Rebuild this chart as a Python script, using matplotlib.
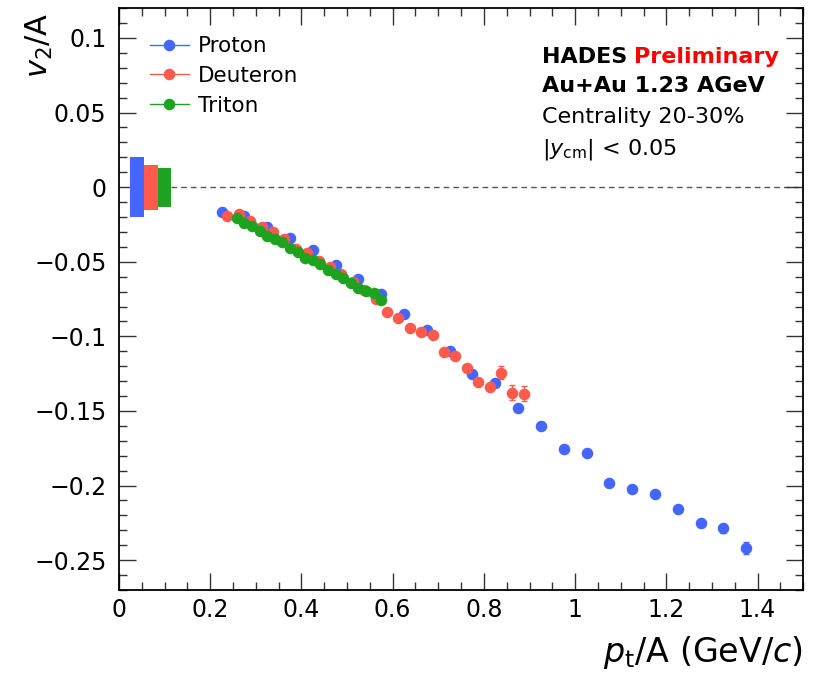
import numpy as np
import matplotlib
matplotlib.use("Agg")
import matplotlib.pyplot as plt
from matplotlib.lines import Line2D
from matplotlib.ticker import MultipleLocator

plt.rcParams['font.family'] = ['DejaVu Sans']
plt.rcParams['mathtext.fontset'] = 'dejavusans'

# v2/A vs pt/A, Au+Au 1.23 AGeV, centrality 20-30%, |y_cm| < 0.05
proton_pt = [0.225, 0.275, 0.325, 0.375, 0.425, 0.475, 0.525, 0.575, 0.625, 0.675,
             0.725, 0.775, 0.825, 0.875, 0.925, 0.975, 1.025, 1.075, 1.125, 1.175,
             1.225, 1.275, 1.325, 1.375]
proton_v2 = [-0.0167, -0.0194, -0.0267, -0.0341, -0.0421, -0.0521, -0.0615, -0.0715,
             -0.0849, -0.0956, -0.1096, -0.1250, -0.1310, -0.1477, -0.1600, -0.1758,
             -0.1785, -0.1985, -0.2025, -0.2059, -0.2159, -0.2253, -0.2286, -0.2420]
proton_err = [0.001, 0.001, 0.001, 0.001, 0.001, 0.001, 0.001, 0.001, 0.001, 0.001,
              0.001, 0.001, 0.0012, 0.0012, 0.0013, 0.0014, 0.0015, 0.0016, 0.0018, 0.002,
              0.0022, 0.0025, 0.003, 0.004]

deuteron_pt = [0.2375, 0.2625, 0.2875, 0.3125, 0.3375, 0.3625, 0.3875, 0.4125, 0.4375,
               0.4625, 0.4875, 0.5125, 0.5375, 0.5625, 0.5875, 0.6125, 0.6375, 0.6625,
               0.6875, 0.7125, 0.7375, 0.7625, 0.7875, 0.8125, 0.8375, 0.8625, 0.8875]
deuteron_v2 = [-0.0194, -0.0180, -0.0227, -0.0267, -0.0300, -0.0350, -0.0414, -0.0440,
               -0.0495, -0.0535, -0.0580, -0.0635, -0.0690, -0.0749, -0.0836, -0.0876,
               -0.0943, -0.0969, -0.0989, -0.1103, -0.1130, -0.1210, -0.1303, -0.1337,
               -0.1243, -0.1377, -0.1384]
deuteron_err = [0.001] * 20 + [0.0012, 0.0015, 0.0018, 0.0022, 0.0045, 0.0048, 0.005]

triton_pt = [0.2583, 0.2750, 0.2917, 0.3083, 0.3250, 0.3417, 0.3583, 0.3750, 0.3917,
             0.4083, 0.4250, 0.4417, 0.4583, 0.4750, 0.4917, 0.5083, 0.5250, 0.5417,
             0.5583, 0.5750]
triton_v2 = [-0.0207, -0.0241, -0.0261, -0.0294, -0.0328, -0.0348, -0.0368, -0.0408,
             -0.0434, -0.0475, -0.0488, -0.0515, -0.0555, -0.0582, -0.0608, -0.0642,
             -0.0675, -0.0695, -0.0709, -0.0755]
triton_err = [0.001] * 20

# systematic uncertainty boxes drawn around zero
sys_x = [0.04, 0.07, 0.10]
sys_half = [0.020, 0.015, 0.013]
sys_width = 0.03

names = ['Proton', 'Deuteron', 'Triton']
colors = ['#4466ff', '#ff5a4b', '#1fa21f']

fig = plt.figure(figsize=(8.13, 6.77), dpi=100)
ax = fig.add_axes([0.1464, 0.1285, 0.8415, 0.8595])

series = [(proton_pt, proton_v2, proton_err),
          (deuteron_pt, deuteron_v2, deuteron_err),
          (triton_pt, triton_v2, triton_err)]

for (x, y, e), c in zip(series, colors):
    ax.errorbar(x, y, yerr=e, fmt='o', color=c, ms=7.3, elinewidth=1,
                capsize=2, capthick=1, zorder=3)

for x, h, c in zip(sys_x, sys_half, colors):
    ax.bar(x, 2 * h, width=sys_width, bottom=-h, color=c, zorder=2)

ax.hlines(0, max(sys_x) + sys_width / 2, 1.5, colors='#555555', linestyles=(0, (4, 3)),
          lw=1, zorder=1)

ax.set_xlim(0, 1.5)
ax.set_ylim(-0.27, 0.12)
ax.xaxis.set_major_locator(MultipleLocator(0.2))
ax.xaxis.set_minor_locator(MultipleLocator(0.05))
ax.yaxis.set_major_locator(MultipleLocator(0.05))
ax.yaxis.set_minor_locator(MultipleLocator(0.01))
ax.xaxis.set_major_formatter(lambda v, p: f'{round(v, 6):g}')
ax.yaxis.set_major_formatter(lambda v, p: f'{round(v, 6) + 0:g}'.replace('-', '\u2212'))

ax.tick_params(which='both', direction='in', top=True, right=True, width=1, color='#333333')
ax.tick_params(which='major', length=12, labelsize=17)
ax.tick_params(which='minor', length=6)
ax.tick_params(axis='y', pad=9)
ax.tick_params(axis='x', pad=6)
for s in ax.spines.values():
    s.set_linewidth(1.3)

ax.set_xlabel(r'$p_{\rm t}$/A (GeV/$c$)', fontsize=24, loc='right')
ax.xaxis.set_label_coords(1.0, -0.1237)
ax.xaxis.label.set_verticalalignment('baseline')
ax.set_ylabel(r'$v_2$/A', fontsize=22, loc='top')
ax.yaxis.set_label_coords(-0.093, 0.993)

handles = [Line2D([], [], color=c, marker='o', ms=7.3, lw=1) for c in colors]
ax.legend(handles, names, loc='upper left', bbox_to_anchor=(0.045, 0.952),
          frameon=False, fontsize=15.5, handlelength=1.8, handletextpad=0.45,
          borderpad=0, borderaxespad=0, labelspacing=0.46)

t1 = ax.text(0.618, 0.9055, 'HADES', transform=ax.transAxes, fontsize=16,
             fontweight='bold', va='baseline')
ax.annotate('Preliminary', xy=(1, 0), xycoords=t1, xytext=(5, 0),
            textcoords='offset points', fontsize=16, fontweight='bold',
            color='#ff0000', va='bottom')
ax.text(0.618, 0.8557, 'Au+Au 1.23 AGeV', transform=ax.transAxes, fontsize=16,
        fontweight='bold', va='baseline')
ax.text(0.618, 0.8024, 'Centrality 20-30%', transform=ax.transAxes, fontsize=16,
        va='baseline')
ax.text(0.618, 0.749, r'|$y_{\rm cm}$| < 0.05', transform=ax.transAxes, fontsize=16,
        va='baseline')

fig.savefig('out.png', dpi=100)
